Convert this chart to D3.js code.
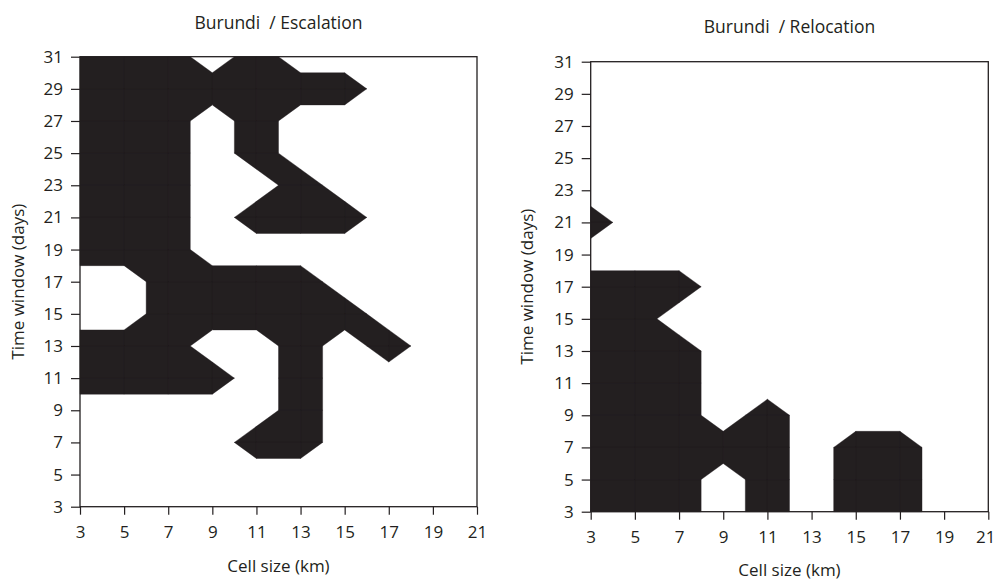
<!DOCTYPE html>
<html><head><meta charset="utf-8">
<script src="https://cdn.jsdelivr.net/npm/d3@7"></script>
<style>
body{margin:0;background:#fff;}
svg text{font-family:"Open Sans",sans-serif;fill:#231f20;}
</style></head><body>
<svg id="c" width="996" height="581"></svg>
<script>
// ---- data ----
const cellSizes = [3,5,7,9,11,13,15,17,19,21];          // km (x)
const timeWindowsTopDown = [31,29,27,25,23,21,19,17,15,13,11,9,7,5,3]; // days (y), rows below
const xTickValues = [3,5,7,9,11,13,15,17,19,21];
const yTickValues = [3,5,7,9,11,13,15,17,19,21,23,25,27,29,31];

// 1 = significant (black), rows follow timeWindowsTopDown, columns follow cellSizes
const escalation = [
  [1,1,1,0,1,0,0,0,0,0], // 31
  [1,1,1,1,1,1,1,0,0,0], // 29
  [1,1,1,0,1,0,0,0,0,0], // 27
  [1,1,1,0,1,0,0,0,0,0], // 25
  [1,1,1,0,0,1,0,0,0,0], // 23
  [1,1,1,0,1,1,1,0,0,0], // 21
  [1,1,1,0,0,0,0,0,0,0], // 19
  [0,0,1,1,1,1,0,0,0,0], // 17
  [0,0,1,1,1,1,1,0,0,0], // 15
  [1,1,1,0,0,1,0,1,0,0], // 13
  [1,1,1,1,0,1,0,0,0,0], // 11
  [0,0,0,0,0,1,0,0,0,0], // 9
  [0,0,0,0,1,1,0,0,0,0], // 7
  [0,0,0,0,0,0,0,0,0,0], // 5
  [0,0,0,0,0,0,0,0,0,0]  // 3
];
const relocation = [
  [0,0,0,0,0,0,0,0,0,0], // 31
  [0,0,0,0,0,0,0,0,0,0], // 29
  [0,0,0,0,0,0,0,0,0,0], // 27
  [0,0,0,0,0,0,0,0,0,0], // 25
  [0,0,0,0,0,0,0,0,0,0], // 23
  [1,0,0,0,0,0,0,0,0,0], // 21
  [0,0,0,0,0,0,0,0,0,0], // 19
  [1,1,1,0,0,0,0,0,0,0], // 17
  [1,1,0,0,0,0,0,0,0,0], // 15
  [1,1,1,0,0,0,0,0,0,0], // 13
  [1,1,1,0,0,0,0,0,0,0], // 11
  [1,1,1,0,1,0,0,0,0,0], // 9
  [1,1,1,1,1,0,1,1,0,0], // 7
  [1,1,1,0,1,0,1,1,0,0], // 5
  [1,1,1,0,1,0,1,1,0,0]  // 3
];

const panels = [
  {title:"Burundi  / Escalation", grid:escalation, x0:80, x1:477, y0:506.7, y1:56.7,
   titleY:29, xLabY:572, yLabX:24},
  {title:"Burundi  / Relocation", grid:relocation, x0:590.7, x1:988.3, y0:511.7, y1:61.7,
   titleY:33, xLabY:576, yLabX:533}
];

const ink = "#231f20";
const svg = d3.select("#c");

// marching squares (threshold 0.5), ambiguous cells joined
function cellPolygons(grid) {
  const polys = [];
  for (let r = 0; r < timeWindowsTopDown.length - 1; r++) {
    for (let c = 0; c < cellSizes.length - 1; c++) {
      const cs = [
        {x:cellSizes[c],   y:timeWindowsTopDown[r],   v:grid[r][c]},
        {x:cellSizes[c+1], y:timeWindowsTopDown[r],   v:grid[r][c+1]},
        {x:cellSizes[c+1], y:timeWindowsTopDown[r+1], v:grid[r+1][c+1]},
        {x:cellSizes[c],   y:timeWindowsTopDown[r+1], v:grid[r+1][c]}
      ];
      const pts = [];
      for (let k = 0; k < 4; k++) {
        const a = cs[k], b = cs[(k+1)%4];
        const ia = a.v >= 0.5, ib = b.v >= 0.5;
        if (ia) pts.push([a.x, a.y]);
        if (ia !== ib) {
          const t = (0.5 - a.v) / (b.v - a.v);
          pts.push([a.x + t*(b.x - a.x), a.y + t*(b.y - a.y)]);
        }
      }
      if (pts.length >= 3) polys.push(pts);
    }
  }
  return polys;
}

panels.forEach((p, pi) => {
  const x = d3.scaleLinear().domain([3,21]).range([p.x0, p.x1]);
  const y = d3.scaleLinear().domain([3,31]).range([p.y0, p.y1]);
  const g = svg.append("g");

  const line = d3.line().x(d => x(d[0])).y(d => y(d[1])).curve(d3.curveLinearClosed);
  const d = cellPolygons(p.grid).map(pts => line(pts)).join("");
  g.append("path").attr("d", d).attr("fill", ink)
    .attr("stroke", ink).attr("stroke-width", 0.4);

  // frame
  g.append("rect").attr("x", p.x0).attr("y", p.y1)
    .attr("width", p.x1 - p.x0).attr("height", p.y0 - p.y1)
    .attr("fill", "none").attr("stroke", ink).attr("stroke-width", 1.3);

  const xa = g.append("g").attr("transform", `translate(0,${p.y0})`)
    .call(d3.axisBottom(x).tickValues(xTickValues).tickSize(8).tickPadding(11).tickSizeOuter(0));
  const ya = g.append("g").attr("transform", `translate(${p.x0},0)`)
    .call(d3.axisLeft(y).tickValues(yTickValues).tickSize(9).tickPadding(8).tickSizeOuter(0));
  [xa, ya].forEach(a => {
    a.select(".domain").remove();
    a.selectAll("line").attr("stroke", ink).attr("stroke-width", 1.2);
    a.selectAll("text").attr("font-size", 17).attr("fill", ink)
      .style("font-family", '"Open Sans",sans-serif');
  });
  // keep the last right-panel label inside the page
  if (pi === 1) {
    xa.selectAll(".tick").filter(v => v === 21).select("text").attr("dx", "-3");
  }

  g.append("text").attr("x", (p.x0 + p.x1)/2).attr("y", p.titleY)
    .attr("text-anchor", "middle").attr("font-size", 17.5)
    .style("white-space", "pre").text(p.title);
  g.append("text").attr("x", (p.x0 + p.x1)/2).attr("y", p.xLabY)
    .attr("text-anchor", "middle").attr("font-size", 17).text("Cell size (km)");
  g.append("text").attr("transform", `translate(${p.yLabX},${(p.y0 + p.y1)/2}) rotate(-90)`)
    .attr("text-anchor", "middle").attr("font-size", 17).text("Time window (days)");
});
</script>
</body></html>
